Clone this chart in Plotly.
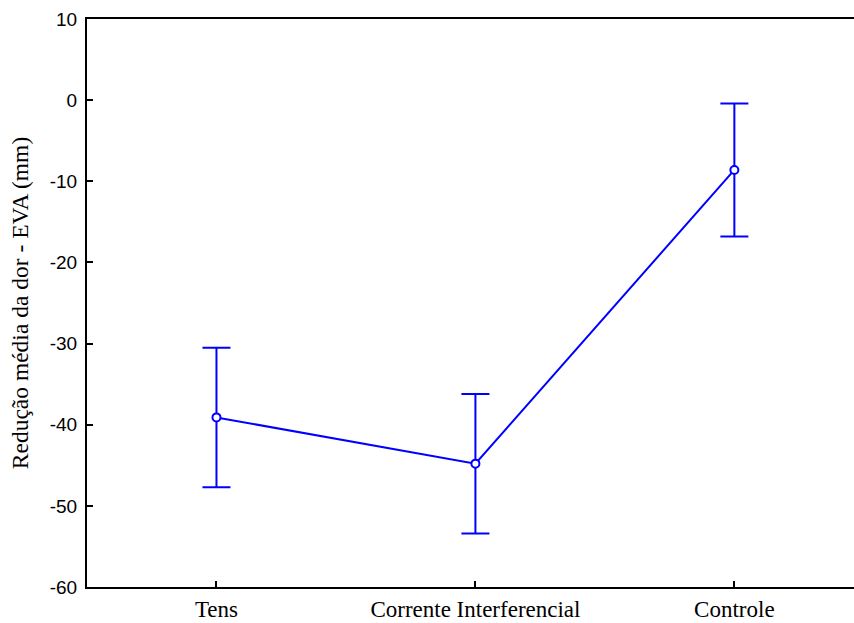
import plotly.graph_objects as go

categories = ["Tens", "Corrente Interferencial", "Controle"]
means = [-39.1, -44.8, -8.6]
errors = [8.6, 8.6, 8.2]
y_ticks = [10, 0, -10, -20, -30, -40, -50, -60]

blue = "#0000FF"
serif = "Liberation Serif, Times New Roman, serif"

fig = go.Figure()
fig.add_trace(go.Scatter(
    x=list(range(len(categories))),
    y=means,
    mode="lines+markers",
    line=dict(color=blue, width=2),
    marker=dict(symbol="circle", size=8, color="white", line=dict(color=blue, width=2)),
    error_y=dict(type="data", array=errors, visible=True, color=blue, thickness=2, width=14),
    showlegend=False,
))

fig.update_layout(
    width=854, height=623,
    margin=dict(l=87, r=0, t=19, b=36),
    paper_bgcolor="white", plot_bgcolor="white",
    xaxis=dict(
        range=[-0.5, 2.462],
        tickmode="array",
        tickvals=list(range(len(categories))),
        ticktext=categories,
        ticks="inside", ticklen=6, tickwidth=2, tickcolor="black",
        showline=True, linecolor="black", linewidth=2, mirror=True,
        showgrid=False, zeroline=False,
        tickfont=dict(family=serif, size=23, color="black"),
    ),
    yaxis=dict(
        range=[-60, 10],
        tickmode="array",
        tickvals=y_ticks,
        ticktext=[str(v) for v in y_ticks],
        ticks="inside", ticklen=6, tickwidth=2, tickcolor="black",
        showline=True, linecolor="black", linewidth=2, mirror=False,
        showgrid=False, zeroline=False,
        ticklabelstandoff=4,
        tickfont=dict(family="Liberation Sans, Arial, sans-serif", size=19, color="black"),
        title=dict(text="Redução média da dor - EVA (mm)",
                   font=dict(family=serif, size=23.5, color="black"),
                   standoff=15),
    ),
)

fig.write_html("out.html")
